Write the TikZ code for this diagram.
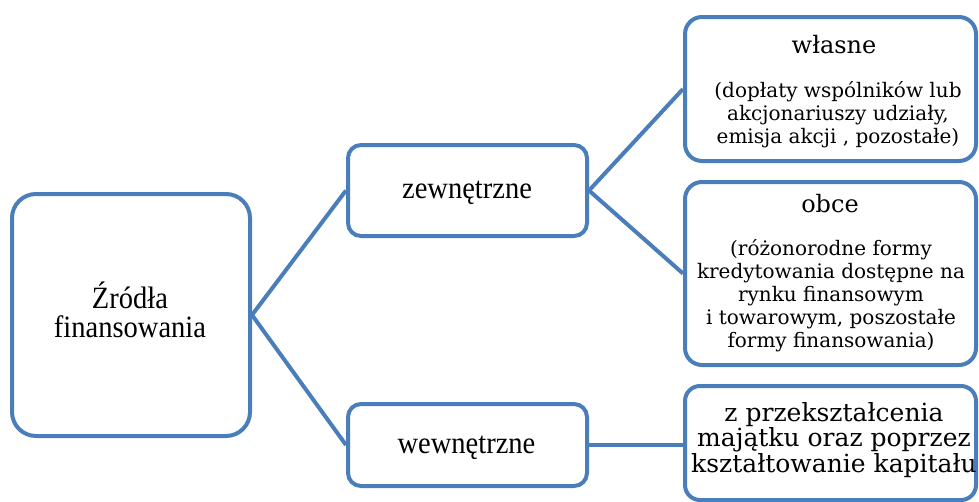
\documentclass[tikz,border=0pt]{standalone}
\usepackage{fontspec}
\setmainfont{Liberation Serif}
\newfontfamily\boxfont{Liberation Serif}[FakeStretch=0.92]
\newfontfamily\notefont{DejaVu Serif}
\usetikzlibrary{calc}
\definecolor{frame}{RGB}{74,126,187}
\tikzset{
  box/.style={draw=frame, line width=4pt, fill=white, inner sep=0pt},
  link/.style={draw=frame, line width=4pt},
  % multi-line texts: the base anchor sits on the last line
  maintext/.style={anchor=base, align=center, inner sep=0pt,
    font=\boxfont\fontsize{31}{29}\selectfont},
  headtext/.style={anchor=base, inner sep=0pt,
    font=\notefont\fontsize{24}{28}\selectfont},
  notetext/.style={anchor=base, align=center, inner sep=0pt,
    font=\notefont\fontsize{20}{23}\selectfont},
  bigtext/.style={anchor=base, align=center, inner sep=0pt,
    font=\notefont\fontsize{25}{24}\selectfont},
}
\begin{document}
\begin{tikzpicture}[x=1pt, y=-1pt]
  \clip (0,0) rectangle (979,501);
  \fill[white] (0,0) rectangle (979,501);

  % boxes
  \node[box, rounded corners=24pt, minimum width=238pt, minimum height=242pt] (src) at (131,315) {};
  \node[box, rounded corners=13pt, minimum width=239pt, minimum height=91pt] (ext) at (467.5,190.5) {};
  \node[box, rounded corners=13pt, minimum width=239pt, minimum height=82pt] (int) at (467.5,445) {};
  \node[box, rounded corners=17pt, minimum width=291pt, minimum height=144pt] (own) at (830.5,89) {};
  \node[box, rounded corners=17pt, minimum width=291pt, minimum height=183pt] (ext2) at (830.5,273.5) {};
  \node[box, rounded corners=15pt, minimum width=291pt, minimum height=114pt] (asset) at (830.5,443) {};

  % connectors
  \draw[link] (src.east) -- (ext.west);
  \draw[link] (src.east) -- (int.west);
  \draw[link] (ext.east) -- (own.west);
  \draw[link] (ext.east) -- (ext2.west);
  \draw[link] (int.east) -- (int.east -| asset.west);

  % texts
  \node[maintext] (srcT) at (130,337) {Źródła\\finansowania};
  \node[maintext] (extT) at (467,198) {zewnętrzne};
  \node[maintext] (intT) at (466.5,453) {wewnętrzne};

  \node[headtext] (ownT) at (834,53) {własne};
  \node[notetext] (ownN) at (838,143) {(dopłaty wspólników lub\\akcjonariuszy udziały,\\emisja akcji , pozostałe)};

  \node[headtext] (ext2T) at (830,212) {obce};
  \node[notetext] (ext2N) at (831,347) {(różonorodne formy\\kredytowania dostępne na\\rynku finansowym\\i towarowym, poszostałe\\formy finansowania)};

  \node[bigtext] (assetT) at (834,472) {z przekształcenia\\majątku oraz poprzez\\kształtowanie kapitału};
\end{tikzpicture}
\end{document}
